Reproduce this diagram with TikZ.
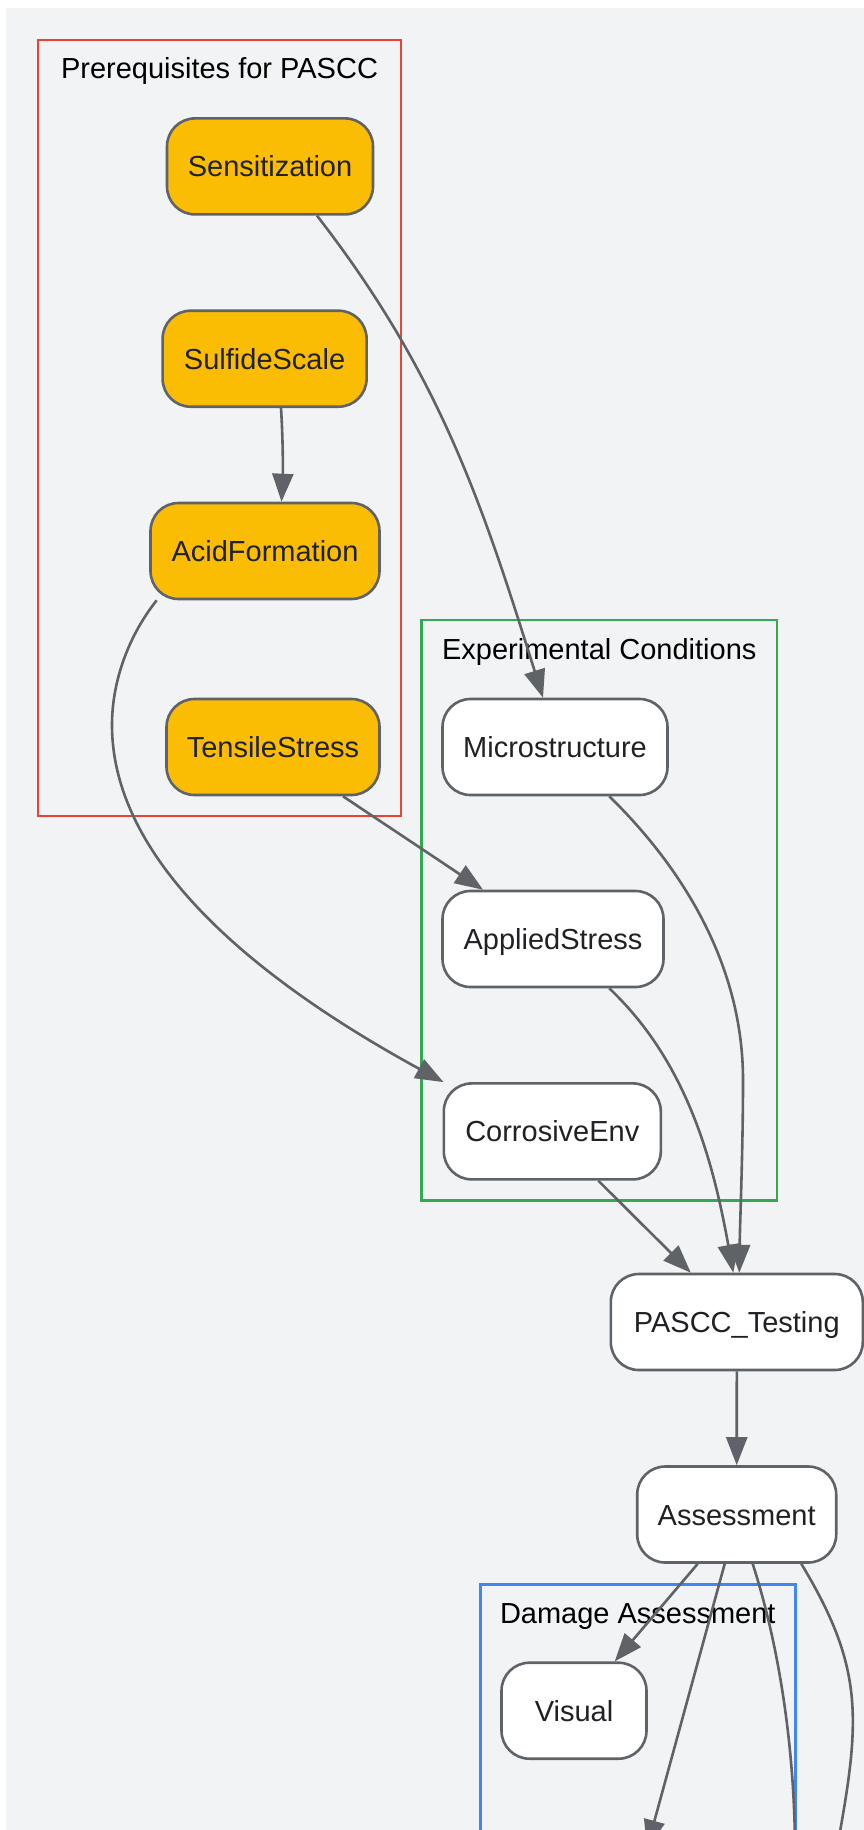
\documentclass[tikz,border=0pt]{standalone}
\usepackage{fontspec}
\setmainfont{Liberation Sans}
\usetikzlibrary{arrows.meta}
\definecolor{bgc}{HTML}{F1F3F4}
\definecolor{edgec}{HTML}{5F6368}
\definecolor{textc}{HTML}{202124}
\definecolor{yel}{HTML}{FBBC04}
\definecolor{redc}{HTML}{EA4335}
\definecolor{greenc}{HTML}{34A853}
\definecolor{bluec}{HTML}{4285F4}
\tikzset{
  box/.style={draw=edgec, line width=2.6pt, rounded corners=28pt, fill=white,
    minimum height=96pt, inner sep=0pt, text=textc,
    font=\fontsize{29}{35}\selectfont, text height=21pt, text depth=0pt},
  pre/.style={box, fill=yel},
  cluster/.style={line width=2.4pt},
  ctitle/.style={anchor=base, inner sep=0pt, text=black, font=\fontsize{29}{35}\selectfont},
  conn/.style={draw=edgec, line width=2.6pt, -{Triangle[length=28pt,width=21pt]}},
}
\begin{document}
\begin{tikzpicture}[x=1pt,y=-1pt]
\useasboundingbox (0,0) rectangle (864,1830);
\clip (0,0) rectangle (864,1830);
\fill[bgc] (6,8) rectangle (870,1840);
% clusters
\draw[cluster, draw=redc] (38,40) rectangle (401,816);
\node[ctitle] (t1) at (219.5,79) {Prerequisites for PASCC};
\draw[cluster, draw=greenc] (421.5,620) rectangle (777,1200.3);
\node[ctitle] (t2) at (599.3,659) {Experimental Conditions};
\draw[cluster, draw=bluec] (480.3,1584.3) rectangle (795.3,1900);
\node[ctitle] (t3) at (637.8,1623) {Damage Assessment};
% nodes
\node[pre, minimum width=206pt] (sens) at (270,166.4) {Sensitization};
\node[pre, minimum width=204pt] (sulf) at (264.6,358.7) {SulfideScale};
\node[pre, minimum width=229pt] (acid) at (265,551) {AcidFormation};
\node[pre, minimum width=213pt] (tens) at (273,747) {TensileStress};
\node[box, minimum width=225pt] (micro) at (555,747) {Microstructure};
\node[box, minimum width=221pt] (appl) at (553,939) {AppliedStress};
\node[box, minimum width=217pt] (corr) at (552.3,1131.4) {CorrosiveEnv};
\node[box, minimum width=252pt] (pascc) at (736.8,1322) {PASCC\_Testing};
\node[box, minimum width=199pt] (assess) at (736.7,1514.5) {Assessment};
\node[box, minimum width=145pt] (visual) at (574,1710.7) {Visual};
% off-canvas ends
\coordinate (offA) at (647,1848);
\coordinate (offB) at (795,1880);
\coordinate (offC) at (834,1865);
% edges
\draw[conn] ([xshift=47pt]sens.south) .. controls (440,374) and (483,506) .. ([xshift=-12pt]micro.north);
\draw[conn] ([xshift=16.4pt]sulf.south) .. controls (283,440) and (283,470) .. ([xshift=16.5pt]acid.north);
\draw[conn] ([xshift=7.5pt]acid.south west) .. controls (129.3,634.7) and (112,680) .. (112,725)
   .. controls (112,875) and (286,996) .. ([xshift=1pt]corr.north west);
\draw[conn] ([xshift=70pt]tens.south) -- ([xshift=-70pt]appl.north);
\draw[conn] ([xshift=54.3pt]micro.south) .. controls (665.9,851.6) and (743,950) .. (743,1080)
   .. controls (743,1150) and (740,1220) .. ([xshift=2.5pt]pascc.north);
\draw[conn] ([xshift=56.3pt]appl.south) .. controls (688.5,1063.4) and (713.7,1164.8) .. ([xshift=-3.5pt]pascc.north);
\draw[conn] ([xshift=46pt]corr.south) -- ([xshift=-46pt]pascc.north);
\draw[conn] (pascc.south) -- (assess.north);
\draw[conn] ([xshift=-39pt]assess.south) -- ([xshift=40.7pt]visual.north);
\draw[conn] ([xshift=-12pt]assess.south) -- (offA);
\draw[conn] ([xshift=16pt]assess.south) .. controls (782,1655) and (795,1760) .. (offB);
\draw[conn] ([xshift=64.6pt]assess.south) .. controls (863.1,1666.1) and (860.6,1717.4) .. (offC);
\end{tikzpicture}
\end{document}
